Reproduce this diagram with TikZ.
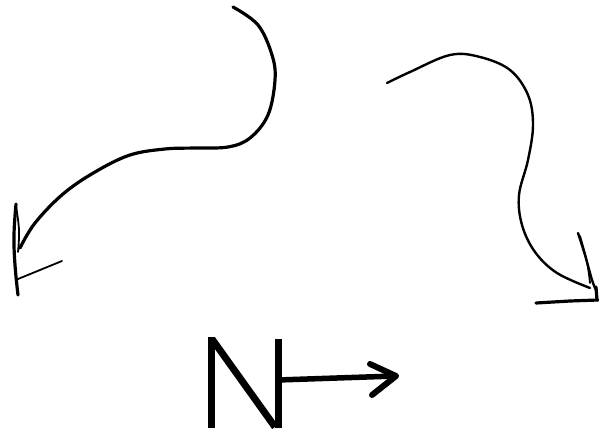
\documentclass[tikz,border=0pt]{standalone}
\begin{document}
\begin{tikzpicture}[x=1pt,y=-1pt,
  ink/.style={draw=black,line cap=round,line join=round},
  curve/.style={ink,line width=3.2pt},
  mid curve/.style={ink,line width=2.4pt},
  thin curve/.style={ink,line width=1.8pt},
  bold/.style={ink,line width=7pt,line cap=butt}]
\useasboundingbox[fill=white] (0,0) rectangle (599,435);
% left curved arrow
\draw[curve] plot[smooth,tension=0.6] coordinates {(233,7) (258,25) (272,55) (275,80) (268,115) (250,138) (228,147) (195,148) (165,149) (130,155) (95,172) (63,194) (35,223) (20,248)};
\draw[curve] plot[smooth,tension=0.7] coordinates {(16,204) (14,235) (15,265) (18,295)};
\draw[thin curve] plot[smooth,tension=0.7] coordinates {(16,206) (19,230) (18,252)};
\draw[thin curve] (18,279) -- (40,270) -- (62,261);
% right curved arrow
\draw[mid curve] plot[smooth,tension=0.6] coordinates {(387,83) (410,72) (450,55) (480,57) (510,70) (528,95) (533,125) (528,160) (519,195) (522,225) (535,252) (557,273) (590,288)};
\draw[mid curve] plot[smooth,tension=0.6] coordinates {(578,233) (585,255) (592,280) (596,290)};
\draw[thin curve] plot[smooth,tension=0.6] coordinates {(580,236) (587,262) (590,283)};
\draw[curve] (536,303) -- (570,301) -- (598,300);
\draw[curve] (596,287) -- (597,300);
% N with arrow
\draw[bold] (211,337) -- (211,428);
\draw[bold] (212,339) -- (275,427);
\draw[bold] (278,339) -- (278,428);
\draw[ink,line width=5.5pt] (278,380) -- (396,376);
\draw[ink,line width=6pt] (370,364) -- (396,376) -- (372,395);
\end{tikzpicture}
\end{document}
